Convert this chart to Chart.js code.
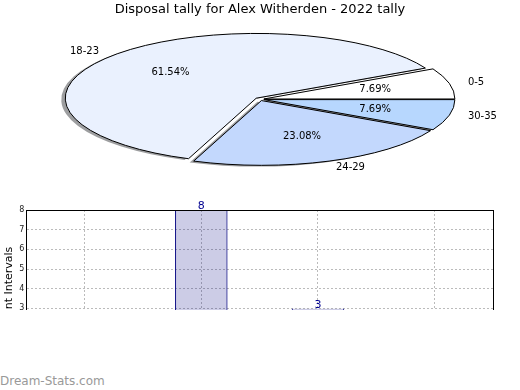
<!DOCTYPE html>
<html lang="en">
<head>
<meta charset="utf-8">
<title>Disposal tally for Alex Witherden - 2022 tally</title>
<style>
  body { margin: 0; background: #fff; width: 520px; height: 390px; position: relative; overflow: hidden; font-family: "DejaVu Sans", sans-serif; }
  #pieBox { position: absolute; left: 0; top: 0; }
  /* the lower chart is cut off at y=310 like in the original picture */
  #barBox { position: absolute; left: 0; top: 195px; width: 520px; height: 115px; overflow: hidden; }
  #mark { position: absolute; left: 0; top: 374px; font-size: 12px; color: #999; }
  canvas { display: block; }
</style>
</head>
<body>

<div id="pieBox"><canvas id="pieChart" width="520" height="200"></canvas></div>
<div id="barBox"><canvas id="barChart" width="520" height="200"></canvas></div>
<div id="mark">Dream-Stats.com</div>

<script src="https://cdn.jsdelivr.net/npm/chart.js@4.4.0/dist/chart.umd.min.js"></script>
<script>
// data
var titleText = "Disposal tally for Alex Witherden - 2022 tally";
var categories = ["0-5", "18-23", "24-29", "30-35"];
var tally = [1, 8, 3, 1];
var countTicks = [0, 1, 2, 3, 4, 5, 6, 7, 8];

// pie styles (same order as categories)
var pieColors = ["#ffffff", "#eaf1fe", "#c3d8fd", "#b7d7fe"];
var explodePx = [4, 5, 4, 4];
var squash = 0.339;       // flat pie: height / width

Chart.defaults.font.family = "'DejaVu Sans', sans-serif";
Chart.defaults.color = "#000";

// slices go counter clockwise from 3 o'clock, so feed them reversed
function rev(a) { return a.slice().reverse(); }

// draws the pie as a flat ellipse with shadow and labels
var flatPie = {
  id: "flatPie",
  beforeDatasetsDraw: function(chart) {
    var ctx = chart.ctx;
    var ds = chart.data.datasets[0];
    var arcs = chart.getDatasetMeta(0).data;
    var total = ds.data.reduce(function(s, v) { return s + v; }, 0);

    function place(a, i, f) {
      var mid = (a.startAngle + a.endAngle) / 2;
      var d = a.outerRadius * f + ds.explode[i];
      return { x: a.x + Math.cos(mid) * d, y: a.y + Math.sin(mid) * d * squash, c: Math.cos(mid) };
    }
    function slice(a, i, dx, dy) {
      var p = place(a, i, 0);
      ctx.beginPath();
      ctx.moveTo(p.x + dx, p.y + dy);
      ctx.ellipse(p.x + dx, p.y + dy, a.outerRadius, a.outerRadius * squash, 0, a.startAngle, a.endAngle);
      ctx.closePath();
    }

    ctx.save();
    // shadows first, under every slice
    arcs.forEach(function(a, i) {
      slice(a, i, -4, 1.3);
      ctx.fillStyle = "rgba(60,62,66,0.5)";
      ctx.fill();
    });
    arcs.forEach(function(a, i) {
      slice(a, i, 0, 0);
      ctx.fillStyle = a.options.backgroundColor;
      ctx.fill();
      ctx.lineWidth = 1;
      ctx.strokeStyle = "#000";
      ctx.stroke();
    });

    ctx.fillStyle = "#000";
    ctx.font = "10px 'DejaVu Sans', sans-serif";
    ctx.textBaseline = "middle";
    arcs.forEach(function(a, i) {
      var p = place(a, i, 1.1);
      ctx.textAlign = p.c > 0 ? "left" : "right";
      ctx.fillText(chart.data.labels[i], p.x, p.y);
      var q = place(a, i, 0.6);
      ctx.textAlign = "center";
      ctx.fillText((ds.data[i] / total * 100).toFixed(2) + "%", q.x, q.y);
    });
    ctx.restore();
    return false;
  }
};

new Chart(document.getElementById("pieChart"), {
  type: "pie",
  data: {
    labels: rev(categories),
    datasets: [{
      data: rev(tally),
      backgroundColor: rev(pieColors),
      explode: rev(explodePx),
      borderWidth: 0
    }]
  },
  options: {
    responsive: false,
    animation: false,
    rotation: 90,
    radius: 191,
    layout: { padding: { left: 0, right: 0, top: 0, bottom: 19 } },
    plugins: {
      legend: { display: false },
      tooltip: { enabled: false },
      title: {
        display: true,
        text: titleText,
        color: "#000",
        font: { size: 13, weight: "normal" },
        padding: { top: 2, bottom: 0 }
      }
    }
  },
  plugins: [flatPie]
});

// box round the plot and the numbers above bars
var barExtras = {
  id: "barExtras",
  afterDatasetsDraw: function(chart) {
    var ctx = chart.ctx;
    var area = chart.chartArea;
    ctx.save();
    ctx.strokeStyle = "#000";
    ctx.lineWidth = 1;
    ctx.strokeRect(Math.round(area.left) + 0.5, Math.round(area.top) + 0.5,
      Math.round(area.right - area.left), Math.round(area.bottom - area.top));

    ctx.fillStyle = "#000090";
    ctx.font = "11px 'DejaVu Sans', sans-serif";
    ctx.textAlign = "center";
    ctx.textBaseline = "bottom";
    chart.getDatasetMeta(0).data.forEach(function(bar, i) {
      ctx.fillText(chart.data.datasets[0].data[i], bar.x, bar.y + 2);
    });
    ctx.restore();
  }
};

new Chart(document.getElementById("barChart"), {
  type: "bar",
  data: {
    labels: categories,
    datasets: [{
      data: tally,
      backgroundColor: "rgba(0,0,128,0.2)",
      borderColor: "#000080",
      borderWidth: 1,
      borderSkipped: "end",
      barPercentage: 0.45,
      categoryPercentage: 1
    }]
  },
  options: {
    responsive: false,
    animation: false,
    layout: { padding: { left: 3, right: 27, top: 15, bottom: 12 } },
    plugins: {
      legend: { display: false },
      tooltip: { enabled: false }
    },
    scales: {
      x: {
        grid: { offset: false, color: "#bbbbbb", drawTicks: false },
        border: { color: "#000", dash: [2, 2] },
        ticks: { font: { size: 8 }, color: "#222", padding: 3 }
      },
      y: {
        min: countTicks[0],
        max: countTicks[countTicks.length - 1],
        ticks: { stepSize: 1, font: { size: 8 }, color: "#222", padding: 2 },
        grid: { color: "#bbbbbb", drawTicks: false },
        border: { color: "#000", dash: [2, 2] },
        title: { display: true, text: "Count Intervals", font: { size: 11 }, color: "#000", padding: { top: 0, bottom: 1 } }
      }
    }
  },
  plugins: [barExtras]
});
</script>
</body>
</html>
